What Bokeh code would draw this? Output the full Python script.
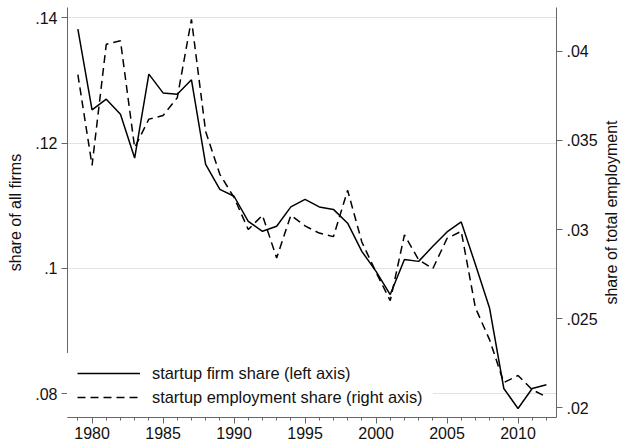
import math
from bokeh.plotting import figure
from bokeh.models import (Range1d, LinearAxis, FixedTicker, SingleIntervalTicker,
                          CustomJSTickFormatter, Legend, LegendItem, Label)
from bokeh.embed import file_html
from bokeh.resources import INLINE

years = list(range(1979, 2013))
firm_share = [0.1382, 0.1253, 0.1270, 0.1246, 0.1176, 0.1310, 0.1280, 0.1278, 0.1301,
              0.1166, 0.1126, 0.1115, 0.1075, 0.1059, 0.1067, 0.1098, 0.1110, 0.1098,
              0.1094, 0.1072, 0.1027, 0.0995, 0.0958, 0.1014, 0.1011, 0.1035, 0.1058,
              0.1074, 0.1006, 0.0936, 0.0808, 0.0776, 0.0808, 0.0814]
emp_share = [0.0387, 0.0336, 0.0404, 0.0406, 0.0346, 0.0362, 0.0364, 0.0374, 0.0418,
             0.0355, 0.0331, 0.0318, 0.0300, 0.0308, 0.0284, 0.0308, 0.0302, 0.0298,
             0.0296, 0.0322, 0.0293, 0.0276, 0.0260, 0.0297, 0.0283, 0.0278, 0.0295,
             0.0299, 0.0256, 0.0238, 0.0214, 0.0218, 0.0210, 0.0206]
left_ticks = [0.08, 0.10, 0.12, 0.14]
right_ticks = [0.02, 0.025, 0.03, 0.035, 0.04]
left_label = "share of all firms"
right_label = "share of total employment"
legend_labels = ["startup firm share (left axis)", "startup employment share (right axis)"]

FONT = "Liberation Sans"
FS = "16px"
AXC = "#666666"

XR = (1978.27, 2012.71)
YR = (0.07617, 0.14164)

p = figure(width=621, height=441, output_backend="svg", toolbar_location=None,
           x_range=Range1d(*XR), y_range=Range1d(*YR),
           min_border_left=67, min_border_right=65, min_border_top=7, min_border_bottom=24)
p.extra_y_ranges = {"right": Range1d(0.01944, 0.04247)}
p.outline_line_color = None
p.background_fill_color = "white"
p.border_fill_color = "white"

fmt = CustomJSTickFormatter(code="return tick.toFixed(3).replace(/0+$/,'').replace(/^0/,'');")

def style_axis(ax):
    ax.axis_line_color = AXC
    ax.major_tick_line_color = AXC
    ax.minor_tick_line_color = AXC
    ax.major_tick_in = 0
    ax.major_tick_out = 6
    ax.minor_tick_in = 0
    ax.minor_tick_out = 3
    ax.major_label_text_font = FONT
    ax.major_label_text_font_size = FS
    ax.major_label_text_color = "#111111"
    ax.axis_label_text_font = FONT
    ax.axis_label_text_font_size = FS
    ax.axis_label_text_font_style = "normal"
    ax.axis_label_text_color = "#111111"

xa = p.xaxis[0]
xa.ticker = SingleIntervalTicker(interval=5, num_minor_ticks=5)
style_axis(xa)
xa.major_label_standoff = 3

ya = p.yaxis[0]
ya.ticker = FixedTicker(ticks=left_ticks)
ya.formatter = fmt
ya.axis_label = left_label
style_axis(ya)
ya.minor_tick_line_color = None
ya.major_label_standoff = 4
ya.axis_label_standoff = 8

ra = LinearAxis(y_range_name="right", ticker=FixedTicker(ticks=right_ticks), formatter=fmt)
style_axis(ra)
ra.minor_tick_line_color = None
ra.major_label_standoff = 4
p.add_layout(ra, "right")

# right-hand axis title, reading bottom-to-top as in the reference (side panel: not clipped)
rlab = Label(x=11, y=205, x_units="screen", y_units="screen", text=right_label,
             angle=math.pi / 2, text_align="center", text_baseline="middle",
             text_font=FONT, text_font_size=FS, text_color="#111111")
p.add_layout(rlab, "right")

p.xgrid.grid_line_color = None
p.ygrid.grid_line_color = "#e2e2e2"
p.ygrid.grid_line_width = 1.2
p.ygrid.ticker = FixedTicker(ticks=left_ticks)

r1 = p.line(years, firm_share, line_color="black", line_width=1.5)
r2 = p.line(years, emp_share, line_color="black", line_width=1.5, line_dash="8 5",
            y_range_name="right")

legend = Legend(items=[LegendItem(label=legend_labels[0], renderers=[r1]),
                       LegendItem(label=legend_labels[1], renderers=[r2])],
                location=(0, 0), margin=0, padding=9, spacing=4,
                glyph_width=63, glyph_height=20, label_height=20, label_standoff=12,
                label_text_font=FONT, label_text_font_size="16.4px", label_text_color="#111111",
                border_line_color="white", background_fill_color="white",
                background_fill_alpha=1.0)
p.add_layout(legend, "center")

open("out.html", "w").write(file_html(p, INLINE))
